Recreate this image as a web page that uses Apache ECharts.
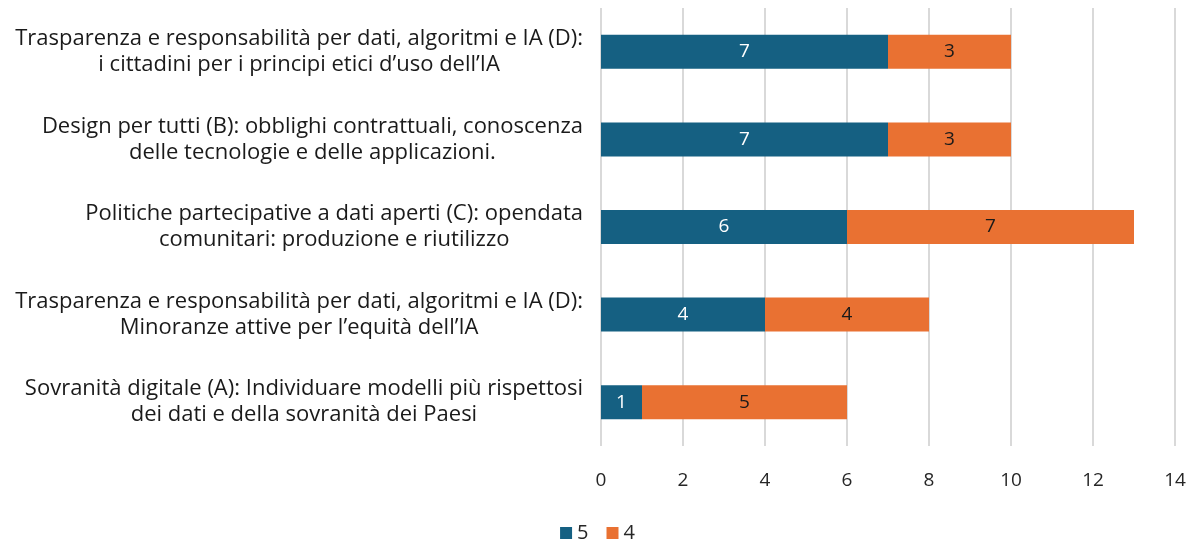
<!DOCTYPE html>
<html>
<head>
<meta charset="utf-8">
<script src="https://cdn.jsdelivr.net/npm/echarts@6/dist/echarts.min.js"></script>
<style>
  html, body { margin: 0; padding: 0; background: #fff; }
  #chart { width: 1195px; height: 545px; }
</style>
</head>
<body>
<div id="chart"></div>
<script>
// categories from bottom to top
const categories = [
  "Sovranità digitale (A): Individuare modelli più rispettosi\ndei dati e della sovranità dei Paesi",
  "Trasparenza e responsabilità per dati, algoritmi e IA (D):\nMinoranze attive per l’equità dell’IA",
  "Politiche partecipative a dati aperti (C): opendata\ncomunitari: produzione e riutilizzo",
  "Design per tutti (B): obblighi contrattuali, conoscenza\ndelle tecnologie e delle applicazioni.",
  "Trasparenza e responsabilità per dati, algoritmi e IA (D):\ni cittadini per i principi etici d’uso dell’IA"
];
const values5 = [1, 4, 6, 7, 7];
const values4 = [5, 4, 7, 3, 3];
const xTicks = [0, 2, 4, 6, 8, 10, 12, 14];

const font = "'Open Sans', 'Liberation Sans', Arial, sans-serif";

const chart = echarts.init(document.getElementById("chart"));
const options = {
  animation: false,
  color: ["#156082", "#E97132"],
  textStyle: { fontFamily: font },
  grid: { left: 601, right: 20, top: 8, bottom: 99, containLabel: false },
  legend: {
    top: 518,
    left: "center",
    itemWidth: 12,
    itemHeight: 12,
    itemGap: 18,
    icon: "rect",
    textStyle: { fontSize: 20, color: "#262626", fontFamily: font },
    data: ["5", "4"]
  },
  xAxis: {
    type: "value",
    min: xTicks[0],
    max: xTicks[xTicks.length - 1],
    interval: 2,
    axisLine: { show: false },
    axisTick: { show: false },
    axisLabel: { fontSize: 19, color: "#262626", margin: 25, fontFamily: font },
    splitLine: { lineStyle: { color: "#d9d9d9", width: 2 } }
  },
  yAxis: {
    type: "category",
    data: categories,
    axisLine: { show: false },
    axisTick: { show: false },
    axisLabel: {
      margin: 18,
      align: "right",
      lineHeight: 26,
      fontSize: 22,
      color: "#1a1a1a",
      fontFamily: font,
      formatter: (v) => v.split("\n").map((l) => "{c|" + l + "}").join("\n"),
      rich: {
        c: { align: "center", fontSize: 22, lineHeight: 26, color: "#1a1a1a", fontFamily: font }
      }
    }
  },
  series: [
    {
      name: "5",
      type: "bar",
      stack: "tot",
      barWidth: 34,
      data: values5,
      label: { show: true, position: "inside", color: "#ffffff", fontSize: 19, fontFamily: font }
    },
    {
      name: "4",
      type: "bar",
      stack: "tot",
      barWidth: 34,
      data: values4,
      label: { show: true, position: "inside", color: "#1a1a1a", fontSize: 19, fontFamily: font }
    }
  ]
};
chart.setOption(options);
window.addEventListener("resize", () => {
  chart.resize();
});
</script>
</body>
</html>
